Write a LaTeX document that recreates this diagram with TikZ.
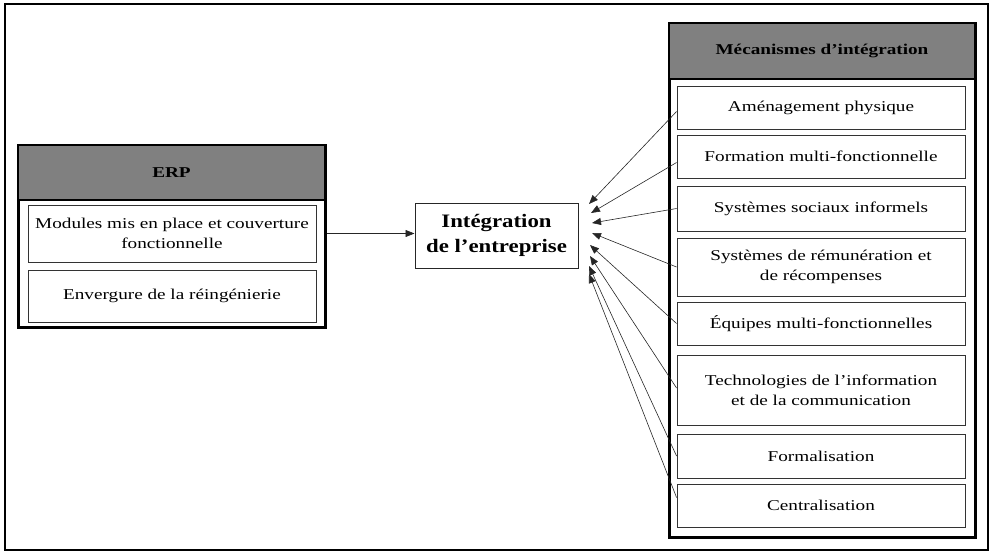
\documentclass[tikz,border=0pt]{standalone}
\usepackage{fontspec}
\setmainfont[FakeStretch=1.28]{Liberation Serif}
\newfontfamily\intfont[FakeStretch=1.2,Ligatures=TeX]{Liberation Serif}
\usetikzlibrary{arrows.meta}
\begin{document}
\begin{tikzpicture}[x=1pt,y=-1pt,
  box/.style={draw=black!80, line width=0.9pt, fill=white, inner sep=0pt, align=center,
    font=\fontsize{15}{20}\selectfont},
  outer/.style={draw=black, line width=3pt, fill=white, inner sep=0pt},
  head/.style={draw=black, line width=2.4pt, fill=black!50, inner sep=0pt,
    font=\bfseries\fontsize{15}{20}\selectfont},
  intbox/.style={draw=black!85, line width=1pt, fill=white, inner sep=0pt, align=center,
    font=\intfont\bfseries\fontsize{19}{25}\selectfont},
  conn/.style={draw=black!85, line width=0.6pt, -{Triangle[length=9pt,width=7pt]}},
  frame/.style={draw=black, line width=2pt, inner sep=0pt}]
\useasboundingbox (0,0) rectangle (991,552);
\node[frame, minimum width=983, minimum height=546] (fr) at (496.5,277) {};

% ERP block
\node[outer, minimum width=307, minimum height=182] (erp) at (171.5,236) {};
\node[head, minimum width=307, minimum height=55] (erph) at (171.5,172.5) {ERP};
\node[box, minimum width=288, minimum height=57] (mod) at (172,233.5)
  {Modules mis en place et couverture\\fonctionnelle};
\node[box, minimum width=288, minimum height=52] (env) at (172,296)
  {Envergure de la réingénierie};

% Integration
\node[intbox, minimum width=163, minimum height=65] (int) at (496.5,235.5)
  {Intégration\\de l'entreprise};

% Mecanismes block
\node[outer, minimum width=306, minimum height=514] (mec) at (822,280) {};
\node[head, minimum width=306, minimum height=56] (mech) at (822,51) {Mécanismes d'intégration};
\node[box, minimum width=288, minimum height=43] (m1) at (821,107.5) {Aménagement physique};
\node[box, minimum width=288, minimum height=43] (m2) at (821,156.5) {Formation multi-fonctionnelle};
\node[box, minimum width=288, minimum height=45] (m3) at (821,208.5) {Systèmes sociaux informels};
\node[box, minimum width=288, minimum height=58] (m4) at (821,267)
  {Systèmes de rémunération et\\de récompenses};
\node[box, minimum width=288, minimum height=43] (m5) at (821,323.5) {Équipes multi-fonctionnelles};
\node[box, minimum width=288, minimum height=70] (m6) at (821,390)
  {Technologies de l'information\\et de la communication};
\node[box, minimum width=288, minimum height=44] (m7) at (821,456) {Formalisation};
\node[box, minimum width=288, minimum height=43] (m8) at (821,505.5) {Centralisation};

% arrow tips
\coordinate (t1) at (589,204);
\coordinate (t2) at (591,213);
\coordinate (t3) at (592,223);
\coordinate (t4) at (592,233);
\coordinate (t5) at (590,245);
\coordinate (t6) at (590,256);
\coordinate (t7) at (589,266);
\coordinate (t8) at (589,274);

\draw[conn] (erp.east |- mod.east) -- (int.west |- mod.east);
\draw[conn] ([yshift=-4pt]m1.west) -- (t1);
\draw[conn] ([yshift=-6pt]m2.west) -- (t2);
\draw[conn] (m3.west) -- (t3);
\draw[conn] (m4.west) -- (t4);
\draw[conn] (m5.west) -- (t5);
\draw[conn] ([yshift=2pt]m6.west) -- (t6);
\draw[conn] (m7.west) -- (t7);
\draw[conn] ([yshift=8pt]m8.west) -- (t8);
\end{tikzpicture}
\end{document}
